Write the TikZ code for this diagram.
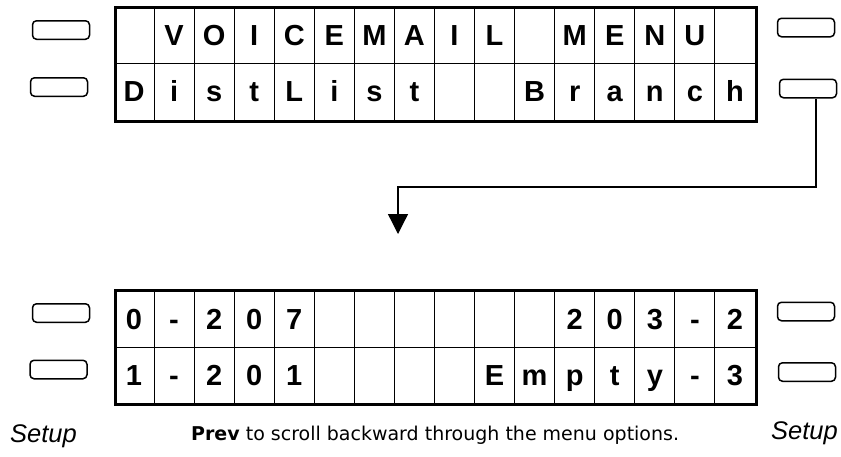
\documentclass[tikz,border=0pt]{standalone}
\usepackage{fontspec}
\setmainfont{Liberation Sans}
\newfontfamily\dejavu{DejaVu Sans}
\usetikzlibrary{arrows.meta}
\tikzset{
  btn/.style={draw, line width=1.5pt, rounded corners=4pt, minimum width=57pt, minimum height=18.5pt, inner sep=0pt},
  frame/.style={draw, line width=3pt, minimum width=641pt, minimum height=114pt, inner sep=0pt, anchor=north west},
  grid/.style={line width=1pt},
  celltext/.style={anchor=base, inner sep=0pt, font=\fontsize{29}{29}\selectfont\bfseries},
  setuptext/.style={anchor=base west, inner sep=0pt, font=\fontsize{25.5}{25.5}\selectfont\itshape},
  conn/.style={line width=1.3pt, -{Triangle[width=20pt,length=20pt]}}
}
\begin{document}
\begin{tikzpicture}[x=1pt,y=-1pt]
\useasboundingbox (0,0) rectangle (841,456);
% buttons
\node[btn] (tl1) at (61,30) {};
\node[btn] (tl2) at (59,87) {};
\node[btn] (tr1) at (806,27.5) {};
\node[btn] (tr2) at (808,88.5) {};
\node[btn] (bl1) at (61,313) {};
\node[btn] (bl2) at (58.5,369.5) {};
\node[btn] (br1) at (806,311.5) {};
\node[btn] (br2) at (807,372) {};
% grids
\foreach \i in {1,...,15}{
  \draw[grid] (114+\i*40.0625,6) -- (114+\i*40.0625,120);
  \draw[grid] (114+\i*40.0625,289) -- (114+\i*40.0625,403);
}
\draw[grid] (114,63) -- (755,63);
\draw[grid] (114,347) -- (755,347);
\node[frame] (top) at (114,6) {};
\node[frame] (bot) at (114,289) {};
% texts
\foreach \c [count=\i from 0] in { ,V,O,I,C,E,M,A,I,L, ,M,E,N,U, }
  \node[celltext] (ta\i) at (134+\i*40.0625,45.5) {\c};
\foreach \c [count=\i from 0] in {D,i,s,t,L,i,s,t, , ,B,r,a,n,c,h}
  \node[celltext] (tb\i) at (134+\i*40.0625,101.5) {\c};
\foreach \c [count=\i from 0] in {0,-,2,0,7, , , , , , ,2,0,3,-,2}
  \node[celltext] (ba\i) at (134+\i*40.0625,329) {\c};
\foreach \c [count=\i from 0] in {1,-,2,0,1, , , , ,E,m,p,t,y,-,3}
  \node[celltext] (bb\i) at (134+\i*40.0625,385) {\c};
\node[setuptext] (setl) at (10,442) {Setup};
\node[setuptext] (setr) at (771,439) {Setup};
\node[anchor=base west, inner sep=0pt, font=\dejavu\fontsize{19}{20}\selectfont] (prev) at (191,440.5) {\textbf{Prev} to scroll backward through the menu options.};
% connector
\coordinate (bend) at (398,187);
\coordinate (tip) at (398,234);
\draw[conn] ([xshift=8pt]tr2.south) |- (bend) -- (tip);
\end{tikzpicture}
\end{document}
